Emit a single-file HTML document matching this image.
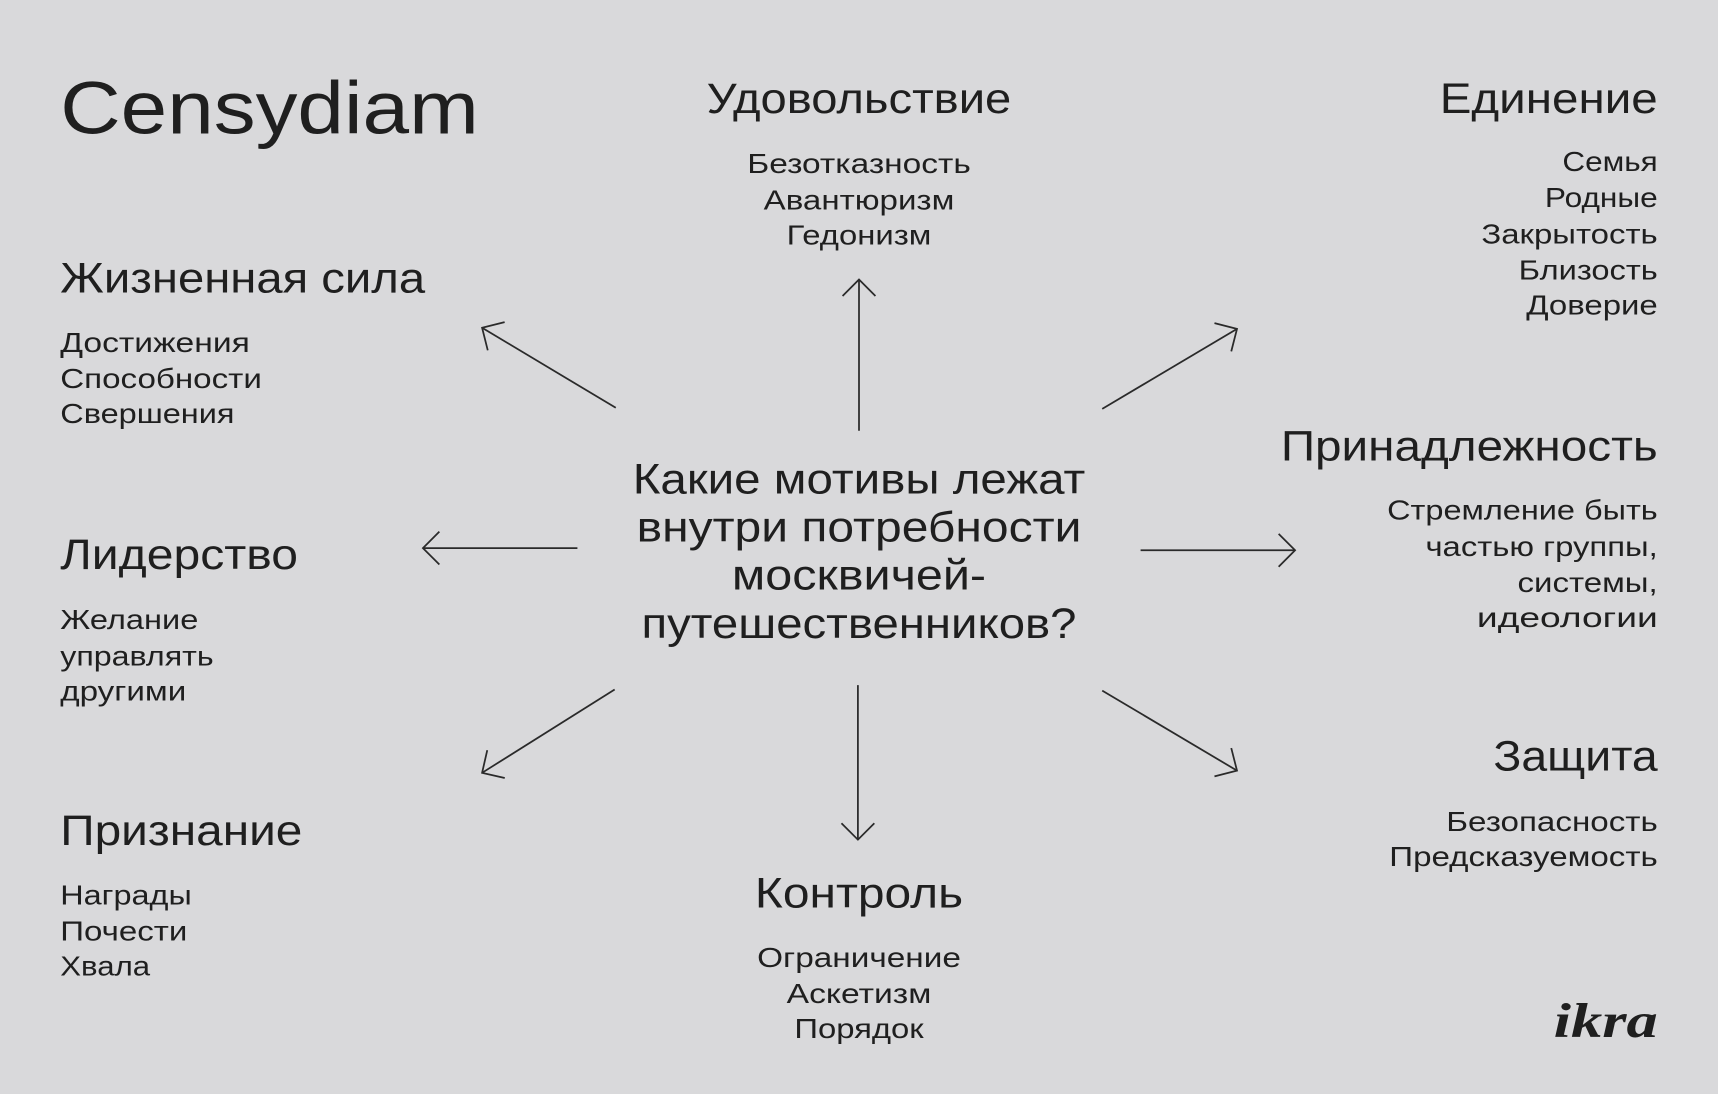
<!DOCTYPE html>
<html><head><meta charset="utf-8"><style>
html,body{margin:0;padding:0;background:#d9d9db;}
svg{display:block;}
text{font-family:"Liberation Sans","DejaVu Sans",sans-serif;fill:#1f1f1f;}
.h{font-size:39px;}
.i{font-size:25px;}
.m{text-anchor:middle;}
.r{text-anchor:end;}
</style></head><body>
<svg width="1718" height="1094" viewBox="0 0 1568 998" preserveAspectRatio="none">
<defs>
<marker id="a" markerUnits="userSpaceOnUse" markerWidth="40" markerHeight="40" refX="0" refY="0" viewBox="-20 -20 40 40" orient="auto">
<path d="M-15,-15 L0,0 L-15,15" fill="none" stroke="#2a2a2a" stroke-width="1.6"/>
</marker>
</defs>
<rect width="1568" height="998" fill="#d9d9db"/>
<text x="55" y="122" style="font-size:68px" textLength="382" lengthAdjust="spacingAndGlyphs">Censydiam</text>

<g lengthAdjust="spacingAndGlyphs">
<text class="h m" x="784" y="103" textLength="278" lengthAdjust="spacingAndGlyphs">Удовольствие</text>
<text class="i m" x="784" y="158" textLength="204" lengthAdjust="spacingAndGlyphs">Безотказность</text>
<text class="i m" x="784" y="191" textLength="174" lengthAdjust="spacingAndGlyphs">Авантюризм</text>
<text class="i m" x="784" y="223" textLength="132" lengthAdjust="spacingAndGlyphs">Гедонизм</text>

<text class="h r" x="1513" y="103" textLength="199" lengthAdjust="spacingAndGlyphs">Единение</text>
<text class="i r" x="1513" y="156" textLength="87" lengthAdjust="spacingAndGlyphs">Семья</text>
<text class="i r" x="1513" y="189" textLength="103" lengthAdjust="spacingAndGlyphs">Родные</text>
<text class="i r" x="1513" y="222" textLength="161" lengthAdjust="spacingAndGlyphs">Закрытость</text>
<text class="i r" x="1513" y="255" textLength="127" lengthAdjust="spacingAndGlyphs">Близость</text>
<text class="i r" x="1513" y="287" textLength="120" lengthAdjust="spacingAndGlyphs">Доверие</text>

<text class="h" x="55" y="267" textLength="333" lengthAdjust="spacingAndGlyphs">Жизненная сила</text>
<text class="i" x="55" y="321" textLength="173" lengthAdjust="spacingAndGlyphs">Достижения</text>
<text class="i" x="55" y="354" textLength="184" lengthAdjust="spacingAndGlyphs">Способности</text>
<text class="i" x="55" y="386" textLength="159" lengthAdjust="spacingAndGlyphs">Свершения</text>

<text class="h r" x="1513" y="420" textLength="344" lengthAdjust="spacingAndGlyphs">Принадлежность</text>
<text class="i r" x="1513" y="474" textLength="247" lengthAdjust="spacingAndGlyphs">Стремление быть</text>
<text class="i r" x="1513" y="507" textLength="212" lengthAdjust="spacingAndGlyphs">частью группы,</text>
<text class="i r" x="1513" y="540" textLength="128" lengthAdjust="spacingAndGlyphs">системы,</text>
<text class="i r" x="1513" y="572" textLength="165" lengthAdjust="spacingAndGlyphs">идеологии</text>

<text class="h" x="55" y="519" textLength="217" lengthAdjust="spacingAndGlyphs">Лидерство</text>
<text class="i" x="55" y="574" textLength="126" lengthAdjust="spacingAndGlyphs">Желание</text>
<text class="i" x="55" y="607" textLength="140" lengthAdjust="spacingAndGlyphs">управлять</text>
<text class="i" x="55" y="639" textLength="115" lengthAdjust="spacingAndGlyphs">другими</text>

<text class="h r" x="1513" y="703" textLength="150" lengthAdjust="spacingAndGlyphs">Защита</text>
<text class="i r" x="1513" y="758" textLength="193" lengthAdjust="spacingAndGlyphs">Безопасность</text>
<text class="i r" x="1513" y="790" textLength="245" lengthAdjust="spacingAndGlyphs">Предсказуемость</text>

<text class="h" x="55" y="771" textLength="221" lengthAdjust="spacingAndGlyphs">Признание</text>
<text class="i" x="55" y="825" textLength="120" lengthAdjust="spacingAndGlyphs">Награды</text>
<text class="i" x="55" y="858" textLength="116" lengthAdjust="spacingAndGlyphs">Почести</text>
<text class="i" x="55" y="890" textLength="82" lengthAdjust="spacingAndGlyphs">Хвала</text>

<text class="h m" x="784" y="828" textLength="190" lengthAdjust="spacingAndGlyphs">Контроль</text>
<text class="i m" x="784" y="882" textLength="186" lengthAdjust="spacingAndGlyphs">Ограничение</text>
<text class="i m" x="784" y="915" textLength="132" lengthAdjust="spacingAndGlyphs">Аскетизм</text>
<text class="i m" x="784" y="947" textLength="118" lengthAdjust="spacingAndGlyphs">Порядок</text>

<text class="h m" x="784" y="450" textLength="413" lengthAdjust="spacingAndGlyphs">Какие мотивы лежат</text>
<text class="h m" x="784" y="494" textLength="406" lengthAdjust="spacingAndGlyphs">внутри потребности</text>
<text class="h m" x="784" y="538" textLength="232" lengthAdjust="spacingAndGlyphs">москвичей-</text>
<text class="h m" x="784" y="582" textLength="397" lengthAdjust="spacingAndGlyphs">путешественников?</text>
</g>

<text x="1513" y="946" text-anchor="end" textLength="95" lengthAdjust="spacingAndGlyphs" style="font-size:44px;font-style:italic;font-weight:bold;font-family:'Liberation Serif',serif;">ikra</text>

<g stroke="#2a2a2a" stroke-width="1.6" fill="none" marker-end="url(#a)">
<line x1="784" y1="393" x2="784" y2="255"/>
<line x1="783" y1="625" x2="783" y2="766"/>
<line x1="527" y1="500" x2="386" y2="500"/>
<line x1="1041" y1="502" x2="1182" y2="502"/>
<line x1="562" y1="372" x2="440" y2="299"/>
<line x1="1006" y1="373" x2="1129" y2="300"/>
<line x1="561" y1="629" x2="440" y2="705"/>
<line x1="1006" y1="630" x2="1129" y2="703"/>
</g>
</svg>
</body></html>
